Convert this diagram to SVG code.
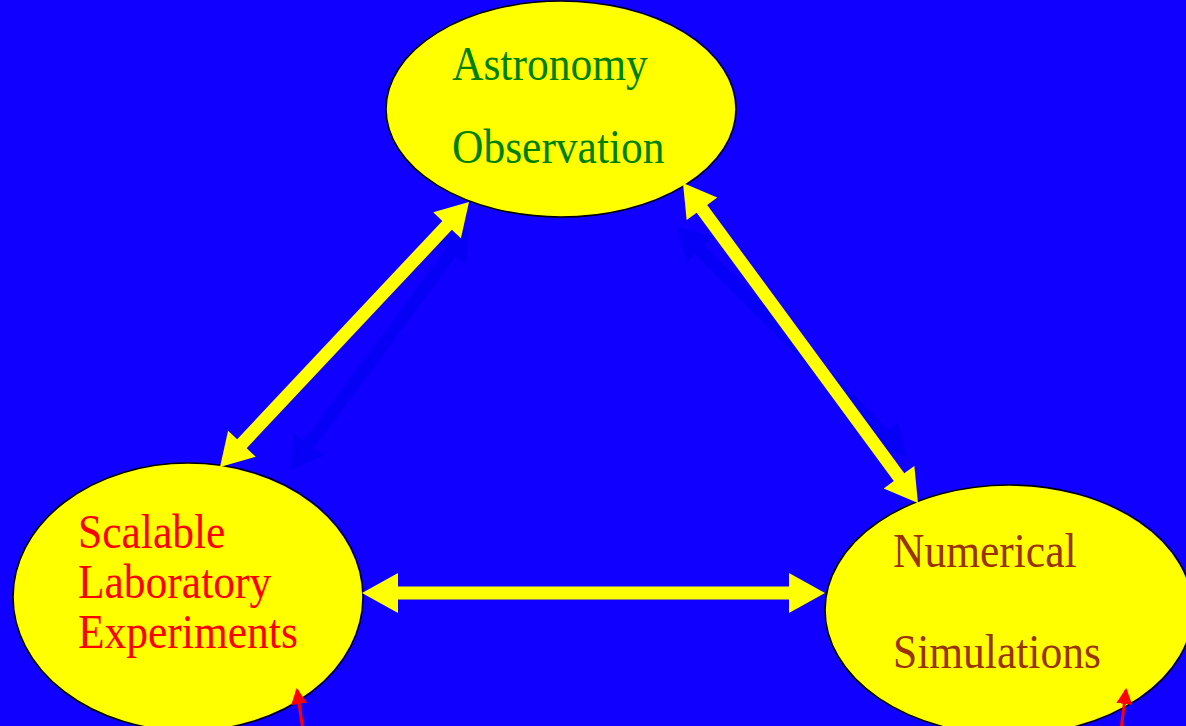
<svg xmlns="http://www.w3.org/2000/svg" width="1186" height="726" viewBox="0 0 1186 726">
<style>
.node{fill:#ffff00;stroke:#000;stroke-width:1.6}
.lbl{font-family:"Liberation Serif","Times New Roman",serif;font-size:43.5px}
.arr{fill:#ffff00}
.shadow{fill:#0700f6}
.red{stroke:#ff0000;stroke-width:3;fill:none}
</style>
<defs>
<marker id="redhead" markerWidth="16" markerHeight="16" refX="14" refY="8" orient="auto" markerUnits="userSpaceOnUse">
<path d="M0,0 L16,8 L0,16 Z" fill="#ff0000"/>
</marker>
</defs>
<rect width="1186" height="726" fill="#1000ff"/>
<g id="astronomy">
<ellipse class="node" cx="561" cy="109" rx="175" ry="108"/>
<g transform="translate(452,80) scale(1,1.1)"><text class="lbl" fill="#008000">Astronomy</text></g>
<g transform="translate(452,163) scale(1,1.1)"><text class="lbl" fill="#008000">Observation</text></g>
</g>
<g id="laboratory">
<ellipse class="node" cx="188" cy="597" rx="175" ry="134"/>
<g transform="translate(78,548) scale(1,1.1)"><text class="lbl" fill="#ff0000">Scalable</text></g>
<g transform="translate(78,598) scale(1,1.1)"><text class="lbl" fill="#ff0000">Laboratory</text></g>
<g transform="translate(78,648) scale(1,1.1)"><text class="lbl" fill="#ff0000">Experiments</text></g>
</g>
<g id="simulations">
<ellipse class="node" cx="1009" cy="610" rx="184" ry="125"/>
<g transform="translate(893,567) scale(1,1.1)"><text class="lbl" fill="#993300">Numerical</text></g>
<g transform="translate(893,668) scale(1,1.1)"><text class="lbl" fill="#993300">Simulations</text></g>
</g>
<g id="connectors">
<g transform="translate(290,470) rotate(-53.5)">
<polygon class="shadow" points="0,0 32,-19 32,-6.5 270,-6.5 270,-19 302,0 270,19 270,6.5 32,6.5 32,19"/>
</g>
<g transform="translate(677,227) rotate(45)">
<polygon class="shadow" points="0,0 32,-19 32,-6.5 293,-6.5 293,-19 325,0 293,19 293,6.5 32,6.5 32,19"/>
</g>
<g transform="translate(220,467) rotate(-46.78)">
<polygon class="arr" points="0,0 32,-19 32,-6.5 331.6,-6.5 331.6,-19 363.6,0 331.6,19 331.6,6.5 32,6.5 32,19"/>
</g>
<g transform="translate(683,183) rotate(53.71)">
<polygon class="arr" points="0,0 32,-19 32,-6.5 365,-6.5 365,-19 397,0 365,19 365,6.5 32,6.5 32,19"/>
</g>
<g transform="translate(362,593)">
<polygon class="arr" points="0,0 36,-20 36,-6.5 427,-6.5 427,-20 463,0 427,20 427,6.5 36,6.5 36,20"/>
</g>
<line class="red" x1="303" y1="730" x2="297" y2="690" marker-end="url(#redhead)"/>
<line class="red" x1="1121" y1="730" x2="1126" y2="690" marker-end="url(#redhead)"/>
</g>
</svg>
